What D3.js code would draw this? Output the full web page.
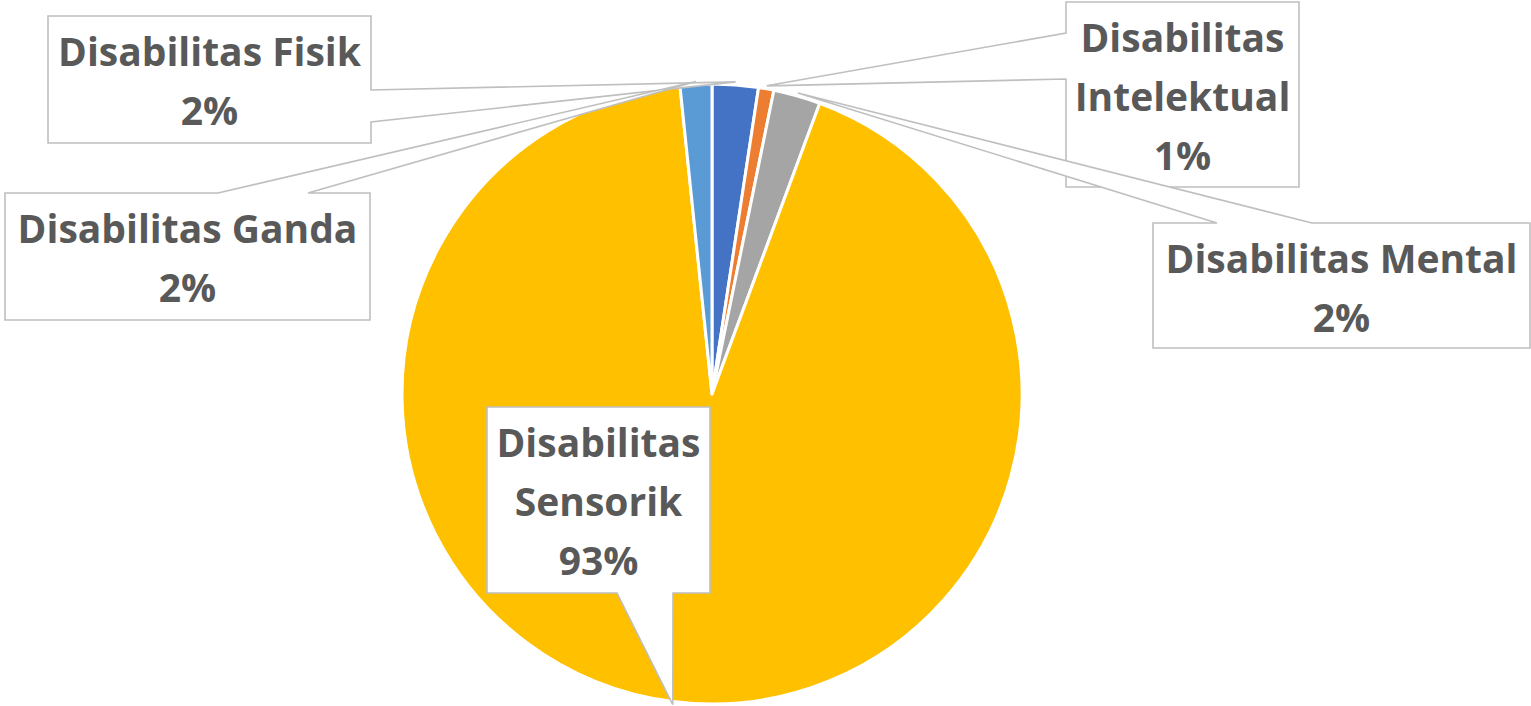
<!DOCTYPE html>
<html>
<head>
<meta charset="utf-8">
<script src="https://cdn.jsdelivr.net/npm/d3@7/dist/d3.min.js"></script>
<style>
  html, body { margin: 0; padding: 0; background: #ffffff; }
  svg { display: block; }
</style>
</head>
<body>
<svg id="chart" width="1531" height="706"></svg>
<script>
// Share of persons with disabilities by type (percent)
const categories = [
  "Disabilitas Fisik",
  "Disabilitas Intelektual",
  "Disabilitas Mental",
  "Disabilitas Sensorik",
  "Disabilitas Ganda"
];
const values = [2.4, 0.8, 2.45, 92.7, 1.65];
const colors = ["#4472C4", "#ED7D31", "#A5A5A5", "#FFC000", "#5B9BD5"];
// Text lines shown in each callout (the percentage is appended)
const labelLines = [
  ["Disabilitas Fisik"],
  ["Disabilitas", "Intelektual"],
  ["Disabilitas Mental"],
  ["Disabilitas", "Sensorik"],
  ["Disabilitas Ganda"]
];

// Callout boxes: rectangle, the side carrying the pointer, and the pointer base span on that side
const callouts = [
  { box: [48, 16, 371, 143],    side: "right",  span: [90, 122] },
  { box: [1066, 2, 1299, 187],  side: "left",   span: [33, 79] },
  { box: [1153, 223, 1530, 348], side: "top",   span: [1217, 1312] },
  { box: [487, 407, 710, 593],  side: "bottom", span: [617, 673] },
  { box: [5, 193, 370, 320],    side: "top",    span: [218, 308] }
];

const cx = 712, cy = 394, radius = 310;
const svg = d3.select("#chart");

const pie = d3.pie().sort(null).value(d => d);
const arcs = pie(values);
const arc = d3.arc().innerRadius(0).outerRadius(radius);
const total = d3.sum(values);
const pct = d3.format(".0%");

const g = svg.append("g").attr("transform", `translate(${cx},${cy})`);

g.selectAll("path.slice")
  .data(arcs)
  .join("path")
  .attr("class", "slice")
  .attr("d", arc)
  .attr("fill", (d, i) => colors[i])
  .attr("stroke", "#ffffff")
  .attr("stroke-width", 3)
  .attr("stroke-linejoin", "round");

// Pointer tip sits just outside the arc at each slice's mid-angle
const tipArc = d3.arc().innerRadius(radius + 3).outerRadius(radius + 3);

function calloutPath(c, tip) {
  const [x0, y0, x1, y1] = c.box;
  const [a, b] = c.span;
  const pts = [];
  if (c.side === "top") {
    pts.push([x0, y0], [a, y0], tip, [b, y0], [x1, y0], [x1, y1], [x0, y1]);
  } else if (c.side === "bottom") {
    pts.push([x0, y0], [x1, y0], [x1, y1], [b, y1], tip, [a, y1], [x0, y1]);
  } else if (c.side === "right") {
    pts.push([x0, y0], [x1, y0], [x1, a], tip, [x1, b], [x1, y1], [x0, y1]);
  } else {
    pts.push([x0, y0], [x1, y0], [x1, y1], [x0, y1], [x0, b], tip, [x0, a]);
  }
  return "M" + pts.map(p => p.join(",")).join("L") + "Z";
}

const labels = svg.append("g");
arcs.forEach((d, i) => {
  const c = callouts[i];
  const [tx, ty] = tipArc.centroid(d);
  const tip = [cx + tx, cy + ty];
  labels.append("path")
    .attr("d", calloutPath(c, tip))
    .attr("fill", "#ffffff")
    .attr("stroke", "#BFBFBF")
    .attr("stroke-width", 1.6)
    .attr("stroke-linejoin", "miter");

  const lines = labelLines[i].concat([pct(d.value / total)]);
  const mx = (c.box[0] + c.box[2]) / 2;
  const text = labels.append("text")
    .attr("x", mx)
    .attr("y", c.box[1] + 50)
    .attr("text-anchor", "middle")
    .attr("font-family", "'Open Sans', Lato, sans-serif")
    .attr("font-weight", 700)
    .attr("font-size", 39)
    .attr("fill", "#595959");
  lines.forEach((t, k) => {
    text.append("tspan")
      .attr("x", mx)
      .attr("dy", k === 0 ? 0 : 59)
      .text(t);
  });
});
</script>
</body>
</html>
